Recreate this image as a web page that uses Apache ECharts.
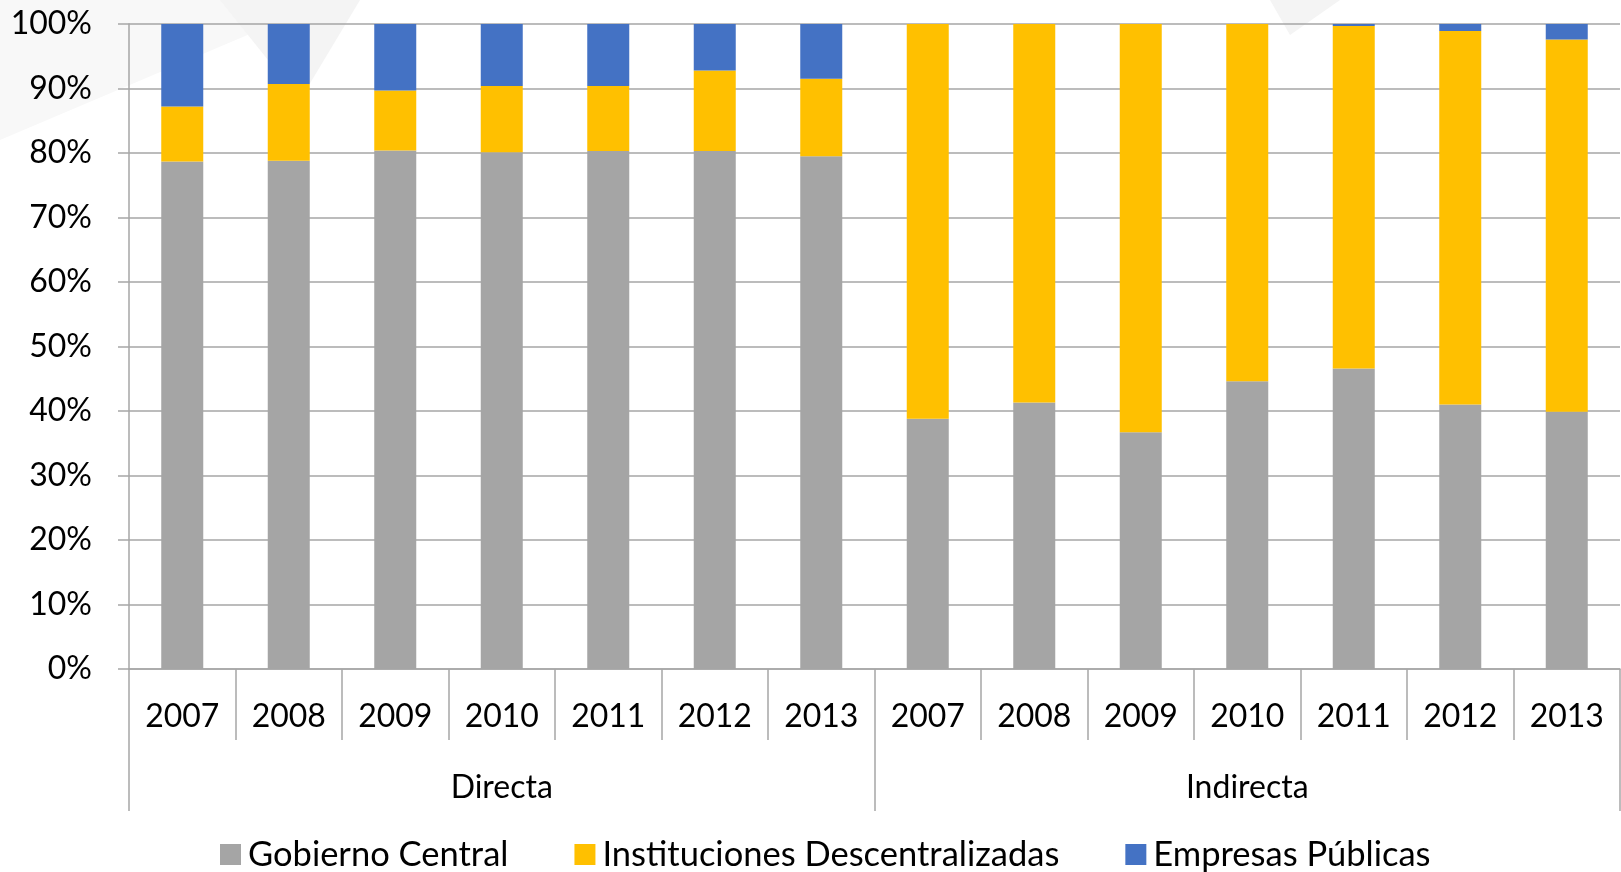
<!DOCTYPE html>
<head>
    <meta charset="utf-8">
    <title>Gobierno Central / Descentralizadas / Empresas</title>
    <script src="https://cdn.jsdelivr.net/npm/echarts@6/dist/echarts.min.js"></script>
    <style>
        body { margin: 0; background: #fff; }
    </style>
</head>
<body>
    <div id="main" style="width:1621px;height:872px"></div>
    <script type="text/javascript">
        var years = ['2007','2008','2009','2010','2011','2012','2013','2007','2008','2009','2010','2011','2012','2013'];
        var groups = ['Directa', 'Indirecta'];
        var seriesNames = ['Gobierno Central', 'Instituciones Descentralizadas', 'Empresas Públicas'];
        // porcentajes
        var gobierno = [78.7, 78.8, 80.4, 80.1, 80.3, 80.3, 79.5, 38.8, 41.3, 36.7, 44.6, 46.6, 41.0, 39.9];
        var descentral = [8.5, 11.9, 9.3, 10.3, 10.1, 12.5, 12.0, 61.2, 58.7, 63.3, 55.4, 53.1, 57.9, 57.7];
        var empresas = [12.8, 9.3, 10.3, 9.6, 9.6, 7.2, 8.5, 0, 0, 0, 0, 0.3, 1.1, 2.4];
        var yTicks = [0, 10, 20, 30, 40, 50, 60, 70, 80, 90, 100];

        var colores = ['#a5a5a5', '#ffc000', '#4472c4'];
        var fuente = 'Lato, "Open Sans", sans-serif';
        var gris = '#a6a6a6';

        var myChart = echarts.init(document.getElementById('main'));

        function serie(i, datos) {
            return {
                name: seriesNames[i],
                type: 'bar',
                stack: 'total',
                barWidth: 42,
                itemStyle: { color: colores[i] },
                data: datos
            };
        }

        var option = {
            backgroundColor: '#fff',
            textStyle: { fontFamily: fuente },
            animation: false,
            graphic: [
                { type: 'polygon', z: -10, shape: { points: [[0, 0], [330, 0], [0, 140]] }, style: { fill: '#f8f8f8' } },
                { type: 'polygon', z: -10, shape: { points: [[220, 0], [360, 0], [300, 100]] }, style: { fill: '#f4f4f4' } },
                { type: 'polygon', z: -10, shape: { points: [[1270, 0], [1340, 0], [1290, 35]] }, style: { fill: '#f4f4f4' } }
            ],
            grid: { left: 129, right: 1, top: 24, bottom: 203 },
            legend: {
                data: seriesNames,
                left: 220,
                bottom: 0,
                padding: 0,
                itemWidth: 21,
                itemHeight: 21,
                itemGap: 66,
                icon: 'rect',
                textStyle: { fontSize: 34.5, color: '#000', fontFamily: fuente, padding: [0, 0, 0, 2] }
            },
            xAxis: [
                {
                    type: 'category',
                    data: years,
                    boundaryGap: true,
                    axisLine: { show: true, lineStyle: { color: gris, width: 1.5 } },
                    axisTick: { show: true, interval: 0, length: 71, lineStyle: { color: gris, width: 1.5 } },
                    axisLabel: { interval: 0, fontSize: 32, color: '#000', margin: 32 }
                },
                {
                    type: 'category',
                    data: groups,
                    position: 'bottom',
                    boundaryGap: true,
                    axisLine: { show: false },
                    axisTick: { show: true, interval: 0, length: 142, lineStyle: { color: gris, width: 1.5 } },
                    axisLabel: { interval: 0, fontSize: 32, color: '#000', margin: 103 }
                }
            ],
            yAxis: {
                type: 'value',
                min: 0,
                max: 100,
                interval: 10,
                axisLine: { show: true, lineStyle: { color: gris, width: 1.5 } },
                axisTick: { show: true, length: 11, lineStyle: { color: gris, width: 1.5 } },
                splitLine: { lineStyle: { color: gris, width: 1.5 } },
                axisLabel: {
                    fontSize: 32,
                    color: '#000',
                    margin: 37,
                    formatter: function (v) { return yTicks.indexOf(v) >= 0 ? v + '%' : ''; }
                }
            },
            series: [
                serie(0, gobierno),
                serie(1, descentral),
                serie(2, empresas)
            ]
        };
        myChart.setOption(option);
    </script>
</body>
